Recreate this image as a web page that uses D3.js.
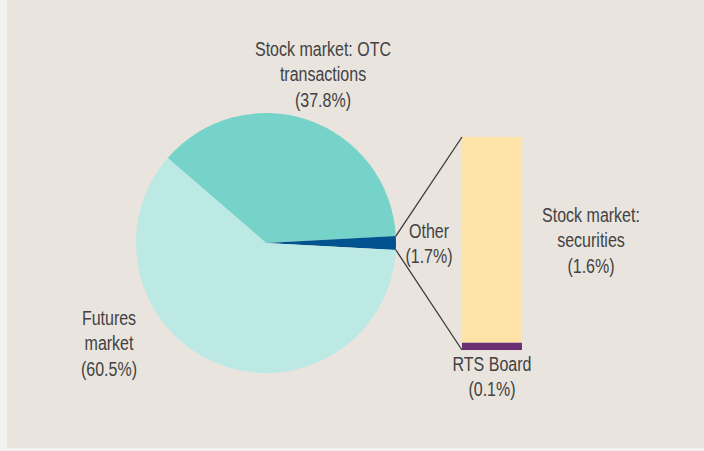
<!DOCTYPE html>
<html>
<head>
<meta charset="utf-8">
<script src="https://cdn.jsdelivr.net/npm/d3@7"></script>
<style>
  body { margin: 0; background: #f4f2ee; }
  svg text { font-family: "Liberation Sans", Arial, sans-serif; font-size: 20px; fill: #424242; }
</style>
</head>
<body>
<svg id="chart" width="704" height="451"></svg>
<script>
// pie slices (share of total, %)
const pieNames = ["otc", "other", "futures"];
const pieValues = [37.8, 1.7, 60.5];
const pieColors = ["#76d3c9", "#00538f", "#bde9e4"];

// breakdown of "Other" (bar, bottom to top)
const barNames = ["rts", "securities"];
const barValues = [0.06, 1.64];
const barColors = ["#6b2f73", "#fde3a8"];

// label lines
const labels = [
    { lines: ["Stock market: OTC", "transactions", "(37.8%)"], x: 323, y: 56 },
    { lines: ["Futures", "market", "(60.5%)"], x: 109, y: 325 },
    { lines: ["Other", "(1.7%)"], x: 429, y: 238 },
    { lines: ["Stock market:", "securities", "(1.6%)"], x: 591, y: 222 },
    { lines: ["RTS Board", "(0.1%)"], x: 492, y: 371 }
];

const svg = d3.select("#chart");

// background panel
svg.append("rect")
    .attr("x", 7).attr("y", 0)
    .attr("width", 697).attr("height", 448)
    .attr("fill", "#e9e4de");

// Pie
const cx = 266, cy = 243, r = 130;
const total = d3.sum(pieValues);
// rotate so "Other" is centred on 3 o'clock
const otherMid = (pieValues[0] + pieValues[1] / 2) / total * 2 * Math.PI;
const start = Math.PI / 2 - otherMid;

const pie = d3.pie().sort(null).value(d => d)
    .startAngle(start).endAngle(start + 2 * Math.PI);
const arcs = pie(pieValues);
const arc = d3.arc().innerRadius(0).outerRadius(r);

const g = svg.append("g").attr("transform", `translate(${cx},${cy})`);
g.selectAll("path")
    .data(arcs)
    .enter()
    .append("path")
    .attr("d", arc)
    .attr("fill", (d, i) => pieColors[i]);

// Stacked bar for the breakdown of "Other"
const barX = 462, barW = 60, barTop = 137, barBottom = 350;
const y = d3.scaleLinear()
    .domain([0, d3.sum(barValues)])
    .range([barBottom, barTop]);

const cum = d3.cumsum(barValues);
svg.selectAll(".seg")
    .data(barValues)
    .enter()
    .append("rect")
    .attr("class", "seg")
    .attr("x", barX)
    .attr("y", (d, i) => y(cum[i]))
    .attr("width", barW)
    .attr("height", (d, i) => y(cum[i] - d) - y(cum[i]))
    .attr("fill", (d, i) => barColors[i]);

// connector lines from the "Other" slice edges to the bar
const oArc = arcs[1];
const p1 = [cx + r * Math.sin(oArc.startAngle), cy - r * Math.cos(oArc.startAngle)];
const p2 = [cx + r * Math.sin(oArc.endAngle), cy - r * Math.cos(oArc.endAngle)];
svg.append("line")
    .attr("x1", p1[0]).attr("y1", p1[1])
    .attr("x2", barX).attr("y2", y(d3.sum(barValues)))
    .attr("stroke", "#3a3a3a").attr("stroke-width", 1.3);
svg.append("line")
    .attr("x1", p2[0]).attr("y1", p2[1])
    .attr("x2", barX).attr("y2", y(0))
    .attr("stroke", "#3a3a3a").attr("stroke-width", 1.3);

// Labels (condensed look: squeeze horizontally)
labels.forEach(l => {
    const t = svg.append("g")
        .attr("transform", `translate(${l.x},${l.y}) scale(0.8,1)`)
        .append("text")
        .attr("text-anchor", "middle");
    l.lines.forEach((line, i) => {
        t.append("tspan")
            .attr("x", 0)
            .attr("y", i * 25.5)
            .text(line);
    });
});
</script>
</body>
</html>
